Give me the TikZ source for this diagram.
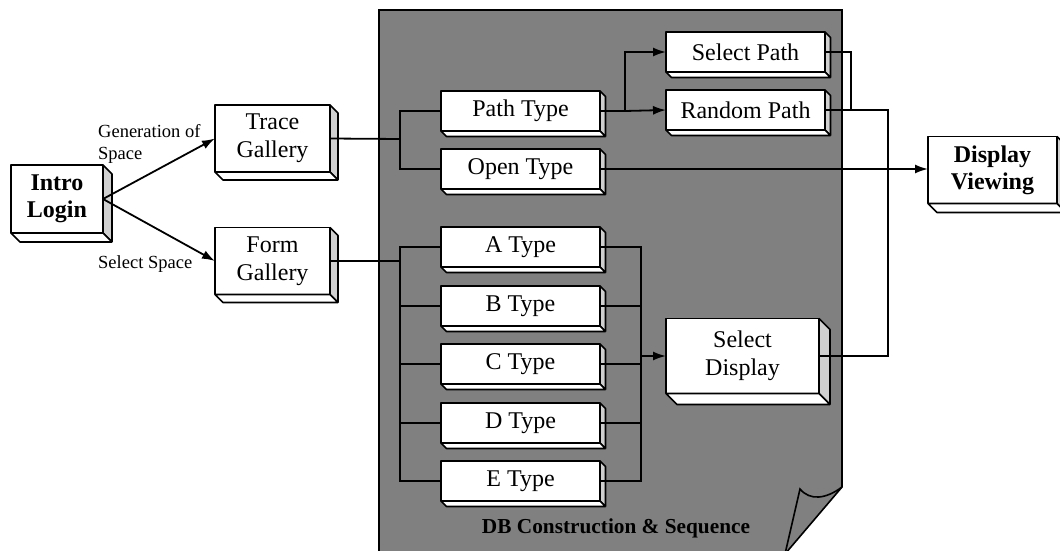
\documentclass[tikz,border=0pt]{standalone}
\usepackage{fontspec}
\setmainfont{Liberation Serif}
\usetikzlibrary{arrows.meta,calc}
\definecolor{sheetgray}{RGB}{128,128,128}
\definecolor{sidegray}{RGB}{208,208,208}
\tikzset{
  box/.style={draw, fill=white, line width=1.6pt, inner sep=0pt, outer sep=0pt, align=center, line join=bevel},
  smallbox/.style={box, minimum width=159pt, minimum height=40pt, font=\fontsize{24}{27}\selectfont},
  bigbox/.style={box, font=\fontsize{24}{28}\selectfont},
  conn/.style={line width=1.8pt, line join=miter},
  lbl/.style={inner sep=0pt, align=left, font=\fontsize{18.5}{22}\selectfont},
}
\newcommand\threed[2]{%
  \draw[fill=sidegray, line width=1.6pt, line join=bevel] (#1.north east) -- ++(#2,#2) -- ($(#1.south east)+(#2,#2)$) -- (#1.south east) -- cycle;
  \draw[fill=white, line width=1.6pt, line join=bevel] (#1.south west) -- ++(#2,#2) -- ($(#1.south east)+(#2,#2)$) -- (#1.south east) -- cycle;
}
\begin{document}
\begin{tikzpicture}[x=1pt, y=-1pt, >={Latex[length=13pt,width=9pt]}]
\useasboundingbox (0,0) rectangle (1060,551);
% sheet
\fill[sheetgray] (379,10) -- (842,10) -- (842,487) -- (785,554) -- (379,554) -- cycle;
\draw[line width=1.6pt, line join=miter] (379,554) -- (379,10) -- (842,10) -- (842,487) -- (785,554);
\draw[line width=1.6pt, line join=miter] (785,554) -- (800,489) .. controls (810,501) and (826,499) .. (842,487);
\node[font=\fontsize{21.3}{25}\selectfont\bfseries, inner sep=0pt, anchor=base] (title) at (616,533) {DB Construction \& Sequence};

% boxes
\node[bigbox, font=\fontsize{24}{27}\selectfont\bfseries, minimum width=92pt, minimum height=68pt] (intro) at (57,199) {Intro\\Login};
\threed{intro}{9}
\node[bigbox, minimum width=115pt, minimum height=67pt] (trace) at (272.5,138.5) {Trace\\Gallery};
\threed{trace}{8}
\node[bigbox, minimum width=115pt, minimum height=67pt] (form) at (272.5,261) {Form\\Gallery};
\threed{form}{8}
\node[smallbox] (path) at (520.5,111) {Path Type};
\threed{path}{5.5}
\node[smallbox] (open) at (520.5,169) {Open Type};
\threed{open}{5.5}
\node[smallbox] (selpath) at (745.5,52) {Select Path};
\threed{selpath}{5.5}
\node[smallbox] (random) at (745.5,110) {Random Path};
\threed{random}{5.5}
\node[smallbox] (ta) at (520.5,247) {A Type};
\threed{ta}{5.5}
\node[smallbox] (tb) at (520.5,306) {B Type};
\threed{tb}{5.5}
\node[smallbox] (tc) at (520.5,364) {C Type};
\threed{tc}{5.5}
\node[smallbox] (td) at (520.5,423) {D Type};
\threed{td}{5.5}
\node[smallbox] (te) at (520.5,481) {E Type};
\threed{te}{5.5}
\node[bigbox, minimum width=153pt, minimum height=75pt] (seldisp) at (742.5,356) {Select\\Display};
\threed{seldisp}{11}
\node[bigbox, font=\fontsize{24}{27}\selectfont\bfseries, minimum width=129pt, minimum height=67pt] (display) at (992.5,170) {Display\\Viewing};
\threed{display}{9}

% labels
\node[lbl, anchor=west] (lgen) at (98,144) {Generation of\\Space};
\node[lbl, anchor=base west] (lsel) at (98,268) {Select Space};

% connector junctions
\coordinate (L) at (400,0);
\coordinate (R) at (641,0);
\coordinate (j1) at (400,139);
\coordinate (j2) at (625,111);
\coordinate (j3) at (851,110);
\coordinate (j4) at (888,110);

% connectors
\draw[conn,->] (intro.east) -- (trace.west);
\draw[conn,->] (intro.east) -- (form.west);
\draw[conn] (trace.east) -- (j1);
\draw[conn] (path.west) -| (j1) |- (open.west);
\draw[conn] (path.east) -- (j2);
\draw[conn,->] (j2) |- (selpath.west);
\draw[conn,->] (j2) -- (random.west);
\draw[conn,->] (open.east) -- (open.east -| display.west);
\draw[line width=1.1pt] (selpath.east) -| (j3);
\draw[conn] (random.east) -- (j4) |- (seldisp.east);
\draw[conn] (form.east) -- (form.east -| L);
\draw[conn] (ta.west) -- (ta.west -| L) -- (te.west -| L) -- (te.west);
\draw[conn] (tb.west) -- (tb.west -| L);
\draw[conn] (tc.west) -- (tc.west -| L);
\draw[conn] (td.west) -- (td.west -| L);
\draw[conn] (ta.east) -- (ta.east -| R) -- (te.east -| R) -- (te.east);
\draw[conn] (tb.east) -- (tb.east -| R);
\draw[conn] (tc.east) -- (tc.east -| R);
\draw[conn] (td.east) -- (td.east -| R);
\draw[conn,->] (seldisp.west -| R) -- (seldisp.west);
\end{tikzpicture}
\end{document}
